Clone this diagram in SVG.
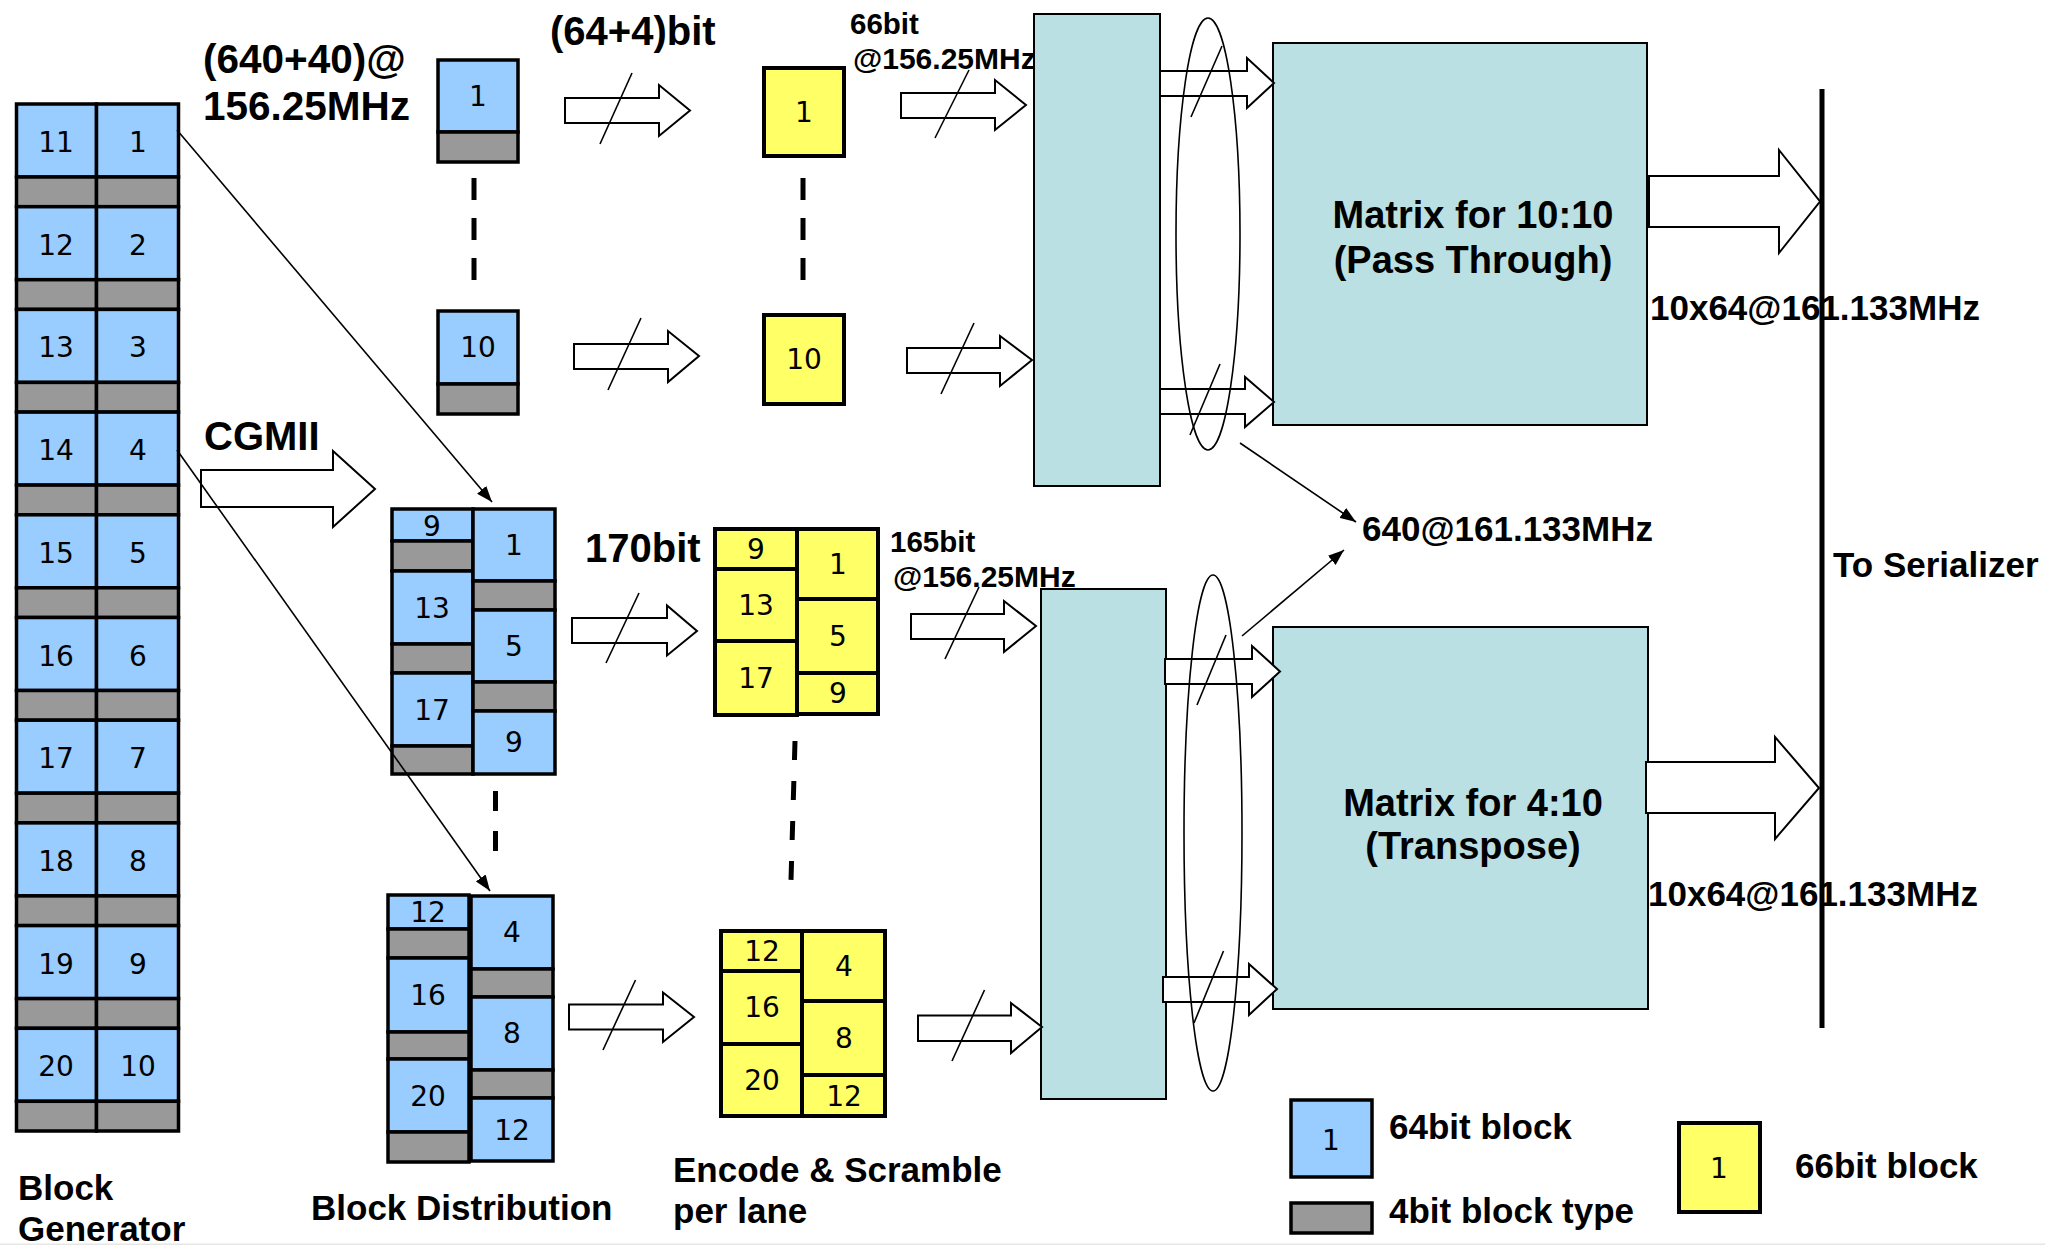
<svg xmlns="http://www.w3.org/2000/svg" width="2045" height="1245" viewBox="0 0 2045 1245">
<defs>
<marker id="ah" viewBox="0 0 16 12" refX="16" refY="6" markerWidth="16" markerHeight="12" markerUnits="userSpaceOnUse" orient="auto">
<path d="M0,0 L16,6 L0,12 Z" fill="#000"/>
</marker>
</defs>
<style>
.b{fill:#99CCFF;stroke:#000;stroke-width:3.5}
.g{fill:#999999;stroke:#000;stroke-width:3.5}
.y{fill:#FFFF66;stroke:#000;stroke-width:4}
.t{fill:#BAE0E3;stroke:#000;stroke-width:2}
.n{font-family:"DejaVu Sans",Verdana,sans-serif;font-size:28px;text-anchor:middle;fill:#000}
.L{font-family:"Liberation Sans",Arial,sans-serif;font-weight:bold;fill:#000}
.ba{fill:#fff;stroke:#000;stroke-width:2}
.sl{stroke:#000;stroke-width:1.6;fill:none}
.cn{stroke:#000;stroke-width:1.6;fill:none;marker-end:url(#ah)}
.dash{stroke:#000;stroke-width:5;fill:none}
.el{fill:none;stroke:#000;stroke-width:1.6}
</style>
<rect width="2045" height="1245" fill="#fff"/>
<rect x="0" y="1243.5" width="2045" height="1.5" fill="#e6e6e6"/>

<!-- Block Generator -->
<g id="block-generator">
<rect class="b" x="16.5" y="104" width="80" height="73"/><rect class="g" x="16.5" y="177" width="80" height="29.7"/>
<rect class="b" x="96.5" y="104" width="82" height="73"/><rect class="g" x="96.5" y="177" width="82" height="29.7"/>
<text class="n" x="56" y="152">11</text><text class="n" x="138" y="152">1</text>
<rect class="b" x="16.5" y="206.7" width="80" height="73"/><rect class="g" x="16.5" y="279.7" width="80" height="29.7"/>
<rect class="b" x="96.5" y="206.7" width="82" height="73"/><rect class="g" x="96.5" y="279.7" width="82" height="29.7"/>
<text class="n" x="56" y="254.7">12</text><text class="n" x="138" y="254.7">2</text>
<rect class="b" x="16.5" y="309.4" width="80" height="73"/><rect class="g" x="16.5" y="382.4" width="80" height="29.7"/>
<rect class="b" x="96.5" y="309.4" width="82" height="73"/><rect class="g" x="96.5" y="382.4" width="82" height="29.7"/>
<text class="n" x="56" y="357.4">13</text><text class="n" x="138" y="357.4">3</text>
<rect class="b" x="16.5" y="412.1" width="80" height="73"/><rect class="g" x="16.5" y="485.1" width="80" height="29.7"/>
<rect class="b" x="96.5" y="412.1" width="82" height="73"/><rect class="g" x="96.5" y="485.1" width="82" height="29.7"/>
<text class="n" x="56" y="460.1">14</text><text class="n" x="138" y="460.1">4</text>
<rect class="b" x="16.5" y="514.8" width="80" height="73"/><rect class="g" x="16.5" y="587.8" width="80" height="29.7"/>
<rect class="b" x="96.5" y="514.8" width="82" height="73"/><rect class="g" x="96.5" y="587.8" width="82" height="29.7"/>
<text class="n" x="56" y="562.8">15</text><text class="n" x="138" y="562.8">5</text>
<rect class="b" x="16.5" y="617.5" width="80" height="73"/><rect class="g" x="16.5" y="690.5" width="80" height="29.7"/>
<rect class="b" x="96.5" y="617.5" width="82" height="73"/><rect class="g" x="96.5" y="690.5" width="82" height="29.7"/>
<text class="n" x="56" y="665.5">16</text><text class="n" x="138" y="665.5">6</text>
<rect class="b" x="16.5" y="720.2" width="80" height="73"/><rect class="g" x="16.5" y="793.2" width="80" height="29.7"/>
<rect class="b" x="96.5" y="720.2" width="82" height="73"/><rect class="g" x="96.5" y="793.2" width="82" height="29.7"/>
<text class="n" x="56" y="768.2">17</text><text class="n" x="138" y="768.2">7</text>
<rect class="b" x="16.5" y="822.9" width="80" height="73"/><rect class="g" x="16.5" y="895.9" width="80" height="29.7"/>
<rect class="b" x="96.5" y="822.9" width="82" height="73"/><rect class="g" x="96.5" y="895.9" width="82" height="29.7"/>
<text class="n" x="56" y="870.9">18</text><text class="n" x="138" y="870.9">8</text>
<rect class="b" x="16.5" y="925.6" width="80" height="73"/><rect class="g" x="16.5" y="998.6" width="80" height="29.7"/>
<rect class="b" x="96.5" y="925.6" width="82" height="73"/><rect class="g" x="96.5" y="998.6" width="82" height="29.7"/>
<text class="n" x="56" y="973.6">19</text><text class="n" x="138" y="973.6">9</text>
<rect class="b" x="16.5" y="1028.3" width="80" height="73"/><rect class="g" x="16.5" y="1101.3" width="80" height="29.7"/>
<rect class="b" x="96.5" y="1028.3" width="82" height="73"/><rect class="g" x="96.5" y="1101.3" width="82" height="29.7"/>
<text class="n" x="56" y="1076.3">20</text><text class="n" x="138" y="1076.3">10</text>
<text class="L" font-size="35" x="18" y="1200">Block</text>
<text class="L" font-size="35" x="18" y="1241">Generator</text>
</g>

<!-- Top lane blocks -->
<g id="lane-block-1">
<rect class="b" x="438" y="60" width="80" height="72"/><rect class="g" x="438" y="132" width="80" height="30"/>
<text class="n" x="478" y="106">1</text>
</g>
<g id="lane-block-10">
<rect class="b" x="438" y="311" width="80" height="73"/><rect class="g" x="438" y="384" width="80" height="30"/>
<text class="n" x="478" y="357">10</text>
</g>
<g id="lane-yellow-1">
<rect class="y" x="764" y="68" width="80" height="88"/>
<text class="n" x="804" y="122">1</text>
</g>
<g id="lane-yellow-10">
<rect class="y" x="764" y="315" width="80" height="89"/>
<text class="n" x="804" y="369">10</text>
</g>

<!-- Block Distribution -->
<g id="distribution-1">
<rect class="b" x="392" y="509" width="81" height="32"/><rect class="g" x="392" y="541" width="81" height="30"/>
<rect class="b" x="392" y="571" width="81" height="73"/><rect class="g" x="392" y="644" width="81" height="29"/>
<rect class="b" x="392" y="673" width="81" height="73"/><rect class="g" x="392" y="746" width="81" height="28"/>
<rect class="b" x="473" y="509" width="82" height="72"/><rect class="g" x="473" y="581" width="82" height="29"/>
<rect class="b" x="473" y="610" width="82" height="72"/><rect class="g" x="473" y="682" width="82" height="29"/>
<rect class="b" x="473" y="711" width="82" height="63"/>
<text class="n" x="432" y="536">9</text><text class="n" x="432" y="618">13</text><text class="n" x="432" y="720">17</text>
<text class="n" x="514" y="555">1</text><text class="n" x="514" y="656">5</text><text class="n" x="514" y="752">9</text>
</g>
<g id="distribution-2">
<rect class="b" x="388" y="895" width="81" height="34"/><rect class="g" x="388" y="929" width="81" height="29"/>
<rect class="b" x="388" y="958" width="81" height="74"/><rect class="g" x="388" y="1032" width="81" height="27"/>
<rect class="b" x="388" y="1059" width="81" height="73"/><rect class="g" x="388" y="1132" width="81" height="30"/>
<rect class="b" x="471" y="896" width="82" height="73"/><rect class="g" x="471" y="969" width="82" height="28"/>
<rect class="b" x="471" y="997" width="82" height="73"/><rect class="g" x="471" y="1070" width="82" height="28"/>
<rect class="b" x="471" y="1098" width="82" height="63"/>
<text class="n" x="428" y="922">12</text><text class="n" x="428" y="1005">16</text><text class="n" x="428" y="1106">20</text>
<text class="n" x="512" y="942">4</text><text class="n" x="512" y="1043">8</text><text class="n" x="512" y="1140">12</text>
<text class="L" font-size="35" x="311" y="1220">Block Distribution</text>
</g>

<!-- Encode & Scramble -->
<g id="encode-1">
<rect class="y" x="715" y="529" width="82" height="40"/>
<rect class="y" x="715" y="569" width="82" height="72"/>
<rect class="y" x="715" y="641" width="82" height="74"/>
<rect class="y" x="797" y="529" width="81" height="70"/>
<rect class="y" x="797" y="599" width="81" height="74"/>
<rect class="y" x="797" y="673" width="81" height="41"/>
<text class="n" x="756" y="559">9</text><text class="n" x="756" y="615">13</text><text class="n" x="756" y="688">17</text>
<text class="n" x="838" y="574">1</text><text class="n" x="838" y="646">5</text><text class="n" x="838" y="703">9</text>
</g>
<g id="encode-2">
<rect class="y" x="721" y="931" width="81" height="40"/>
<rect class="y" x="721" y="971" width="81" height="73"/>
<rect class="y" x="721" y="1044" width="81" height="72"/>
<rect class="y" x="802" y="931" width="83" height="70"/>
<rect class="y" x="802" y="1001" width="83" height="74"/>
<rect class="y" x="802" y="1075" width="83" height="41"/>
<text class="n" x="762" y="961">12</text><text class="n" x="762" y="1017">16</text><text class="n" x="762" y="1090">20</text>
<text class="n" x="844" y="976">4</text><text class="n" x="844" y="1048">8</text><text class="n" x="844" y="1106">12</text>
<text class="L" font-size="35" x="673" y="1182">Encode &amp; Scramble</text>
<text class="L" font-size="35" x="673" y="1223">per lane</text>
</g>

<!-- Mux boxes -->
<g id="mux-top"><rect class="t" x="1034" y="14" width="126" height="472"/></g>
<g id="mux-bottom"><rect class="t" x="1041" y="589" width="125" height="510"/></g>

<!-- Matrices -->
<g id="matrix-10-10">
<rect class="t" x="1273" y="43" width="374" height="382"/>
<text class="L" font-size="38" x="1473" y="228" text-anchor="middle">Matrix for 10:10</text>
<text class="L" font-size="38" x="1473" y="273" text-anchor="middle">(Pass Through)</text>
</g>
<g id="matrix-4-10">
<rect class="t" x="1273" y="627" width="375" height="382"/>
<text class="L" font-size="38" x="1473" y="816" text-anchor="middle">Matrix for 4:10</text>
<text class="L" font-size="38" x="1473" y="859" text-anchor="middle">(Transpose)</text>
</g>

<!-- Legend -->
<g id="legend">
<rect class="b" x="1291" y="1100" width="81" height="77"/>
<text class="n" x="1331" y="1150" font-size="27">1</text>
<text class="L" font-size="35" x="1389" y="1139">64bit block</text>
<rect class="g" x="1291" y="1203" width="81" height="30"/>
<text class="L" font-size="35" x="1389" y="1223">4bit block type</text>
<rect class="y" x="1679" y="1123" width="81" height="89"/>
<text class="n" x="1719" y="1178" font-size="27">1</text>
<text class="L" font-size="35" x="1795" y="1178">66bit block</text>
</g>

<!-- Labels -->
<g id="labels">
<text class="L" font-size="40.5" x="203" y="73">(640+40)@</text>
<text class="L" font-size="40.5" x="203" y="120">156.25MHz</text>
<text class="L" font-size="40" x="550" y="45">(64+4)bit</text>
<text class="L" font-size="29.5" x="850" y="34">66bit</text>
<text class="L" font-size="30" x="853" y="69">@156.25MHz</text>
<text class="L" font-size="40" x="204" y="450">CGMII</text>
<text class="L" font-size="40" x="585" y="562">170bit</text>
<text class="L" font-size="29.5" x="890" y="552">165bit</text>
<text class="L" font-size="30" x="893" y="587">@156.25MHz</text>
<text class="L" font-size="35" x="1362" y="541">640@161.133MHz</text>
<text class="L" font-size="35" x="1650" y="320">10x64@161.133MHz</text>
<text class="L" font-size="35" x="1648" y="906">10x64@161.133MHz</text>
<text class="L" font-size="35" x="1833" y="577">To Serializer</text>
</g>

<g id="serializer"><line x1="1822" y1="89" x2="1822" y2="1028" stroke="#000" stroke-width="5"/></g>

<!-- Connectors -->
<g id="connectors">
<line class="dash" x1="474" y1="178" x2="474" y2="280" stroke-dasharray="22 18"/>
<line class="dash" x1="803" y1="178" x2="803" y2="280" stroke-dasharray="22 18"/>
<line class="dash" x1="495.5" y1="791" x2="495.5" y2="871" stroke-dasharray="20 20"/>
<line class="dash" x1="795" y1="741" x2="791" y2="880" stroke-dasharray="19 21"/>

<path class="ba" d="M565,98 H659 V85 L690,110.5 L659,136 V123 H565 Z"/><line class="sl" x1="632" y1="73" x2="600" y2="144"/>
<path class="ba" d="M574,344 H668 V331 L699,356 L668,382 V369 H574 Z"/><line class="sl" x1="641" y1="318" x2="608" y2="390"/>
<path class="ba" d="M901,93 H995 V80 L1026,105 L995,130 V118 H901 Z"/><line class="sl" x1="969" y1="70" x2="935" y2="138"/>
<path class="ba" d="M907,348 H1000 V336 L1032,360 L1000,386 V373 H907 Z"/><line class="sl" x1="974" y1="323" x2="941" y2="394"/>
<path class="ba" d="M1160,71 H1247 V58 L1274,83 L1247,108 V96 H1160 Z"/><line class="sl" x1="1222" y1="46" x2="1191" y2="117"/>
<path class="ba" d="M1160,389 H1245 V377 L1274,402 L1245,427 V414 H1160 Z"/><line class="sl" x1="1220" y1="364" x2="1190" y2="435"/>
<path class="ba" d="M1649,176 H1779 V150 L1820,201.5 L1779,253 V227 H1649 Z"/>
<path class="ba" d="M1646,762 H1775 V737 L1819,788 L1775,839 V813 H1646 Z"/>
<path class="ba" d="M201,470 H333 V451 L375,489 L333,527 V507 H201 Z"/>
<path class="ba" d="M572,618 H667 V605.5 L697,631 L667,655.5 V643 H572 Z"/><line class="sl" x1="639" y1="593" x2="606" y2="663"/>
<path class="ba" d="M911,614 H1004 V601 L1036,626 L1004,652 V639 H911 Z"/><line class="sl" x1="979" y1="587" x2="945" y2="659"/>
<path class="ba" d="M569,1004.5 H663 V992.5 L694,1017 L663,1042 V1029.5 H569 Z"/><line class="sl" x1="635.5" y1="980" x2="603" y2="1050"/>
<path class="ba" d="M918,1015.5 H1011 V1003 L1042,1027 L1011,1053 V1041 H918 Z"/><line class="sl" x1="984.5" y1="990" x2="952" y2="1061"/>
<path class="ba" d="M1165,659 H1252 V646 L1280,671.5 L1252,697 V684 H1165 Z"/><line class="sl" x1="1226" y1="635" x2="1197" y2="705"/>
<path class="ba" d="M1163,977 H1249 V964 L1277,989 L1249,1015 V1002 H1163 Z"/><line class="sl" x1="1223.5" y1="951" x2="1194" y2="1023"/>
<ellipse class="el" cx="1208" cy="234" rx="32" ry="216"/>
<ellipse class="el" cx="1213" cy="833" rx="29" ry="258"/>

<line class="cn" x1="177" y1="130" x2="492" y2="502"/>
<line class="cn" x1="177" y1="450" x2="490" y2="891"/>
<line class="cn" x1="1240" y1="443" x2="1356" y2="522"/>
<line class="cn" x1="1242" y1="636" x2="1344" y2="550"/>
</g>
</svg>
